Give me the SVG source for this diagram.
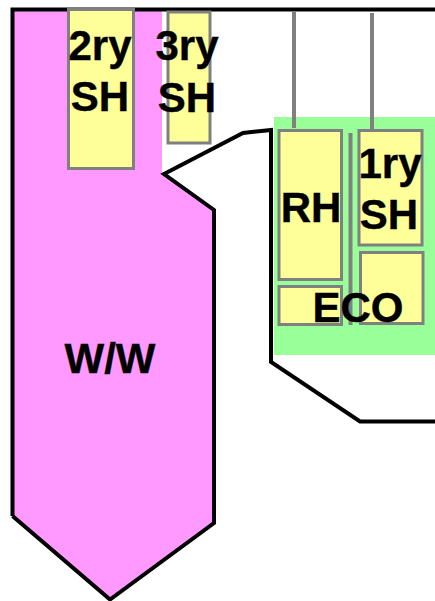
<svg xmlns="http://www.w3.org/2000/svg" width="435" height="601" viewBox="0 0 435 601">
<style>
.wall{fill:none;stroke:#000;stroke-width:4;stroke-linejoin:miter}
.tube{fill:#ffff99;stroke:#808080;stroke-width:3}
.hang{stroke:#808080;stroke-width:4;fill:none}
text{font-family:"Liberation Sans",Arial,sans-serif;font-weight:bold;font-size:42px;fill:#000;text-anchor:middle;stroke:#000;stroke-width:.4}
</style>
<rect width="435" height="601" fill="#fff"/>
<g id="furnace-ww">
<path d="M13 10H162V174L214 210V523L110 599L13 516Z" fill="#ff99ff"/>
</g>
<g id="rear-pass"><rect x="274" y="117" width="161" height="238" fill="#99ff99"/></g>
<g id="connectors">
<path class="wall" d="M12.500 516V9.500H435"/>
<path class="wall" d="M12.500 516L110 599.500L214 523V210L164 174L243 133L271 130V362L360 421.500H435"/>
<line class="hang" x1="294" y1="12" x2="294" y2="128"/>
<line class="hang" x1="372" y1="13" x2="372" y2="130"/>
<line class="hang" x1="350.500" y1="133" x2="350.500" y2="325"/>
</g>
<g id="sh2"><rect class="tube" x="68.500" y="9.500" width="65" height="159"/><text x="100" y="60">2ry</text><text x="100" y="111">SH</text></g>
<g id="sh3"><rect class="tube" x="168" y="12" width="42" height="131"/><text x="187" y="60">3ry</text><text x="187" y="112">SH</text></g>
<g id="rh"><rect class="tube" x="279" y="130.500" width="62.500" height="149"/><text x="311" y="222">RH</text></g>
<g id="sh1"><rect class="tube" x="359" y="130.500" width="63" height="114.500"/><text x="390" y="178">1ry</text><text x="389" y="229">SH</text></g>
<g id="eco"><rect class="tube" x="279" y="286.500" width="62.500" height="38"/><rect class="tube" x="360.500" y="252.500" width="62.500" height="71"/><text x="358" y="322">ECO</text></g>
<g id="ww"><text x="110" y="373">W/W</text></g>
</svg>
